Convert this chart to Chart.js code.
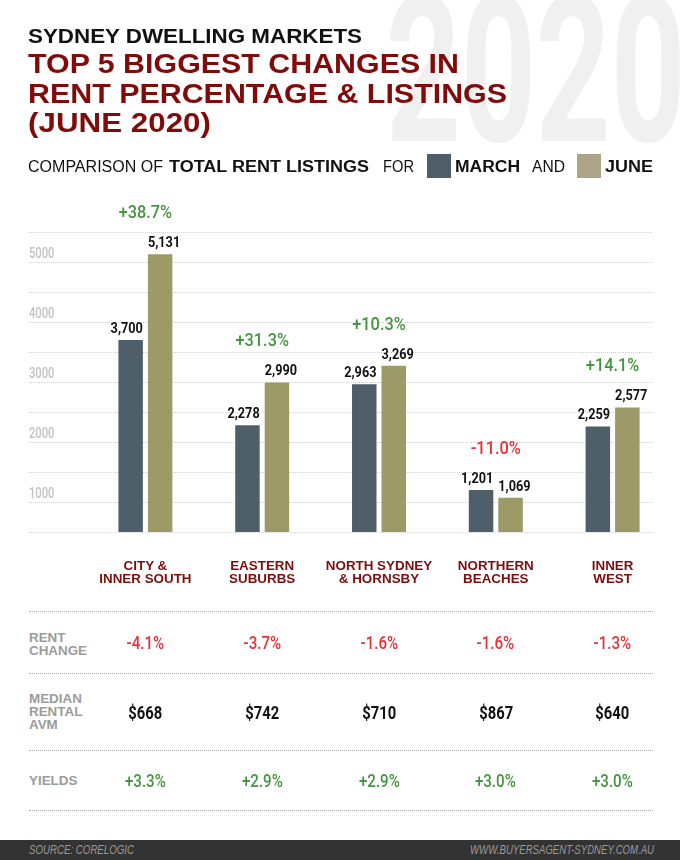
<!DOCTYPE html>
<html>
<head>
<meta charset="utf-8">
<script src="https://cdn.jsdelivr.net/npm/chart.js@4.4.1/dist/chart.umd.min.js"></script>
<style>
  body { margin: 0; background: #fff; }
  #page { position: relative; width: 680px; height: 860px; overflow: hidden; font-family: "Liberation Sans", Arial, sans-serif; }
  .abs { position: absolute; white-space: nowrap; }
  #wm { left: 386px; top: -30px; font-family: Roboto, sans-serif; font-size: 204px; line-height: 204px; font-weight: bold; color: #f0f0f0; transform: scaleX(0.64); transform-origin: left top; }
  #chartBox { position: absolute; left: 0; top: 0; width: 680px; height: 600px; }
  .title { color: #800b0b; font-weight: bold; font-size: 27px; line-height: 30px; transform-origin: left center; }
  .legend { font-size: 16px; line-height: 20px; color: #111; transform-origin: left center; }
  .sw { position: absolute; width: 24px; height: 24px; top: 154px; }
  .cat { color: #7e0d0d; font-weight: bold; font-size: 13.4px; line-height: 13px; text-align: center; width: 130px; }
  .rowlab { color: #9b9b9b; font-weight: bold; font-size: 13.4px; line-height: 13px; left: 29px; }
  .val { font-family: Roboto, sans-serif; font-size: 18px; font-weight: 500; line-height: 22px; text-align: center; width: 100px; }
  .val span { display: inline-block; transform: scaleX(0.84); transform-origin: center; }
  .val.money { font-size: 18.5px; font-weight: bold; color: #111; }
  .val.money span { transform: scaleX(0.8); }
  .dots { position: absolute; left: 29px; width: 624px; height: 0; border-top: 1px dotted #a8a8a8; }
  #footer { position: absolute; left: 0; top: 840px; width: 680px; height: 20px; background: #333333; }
  .foot { color: #9a9a9a; font-style: italic; font-size: 12px; line-height: 20px; top: 0; }
</style>
</head>
<body>
<div id="page">
  <div id="wm" class="abs">2020</div>
  <div id="chartBox"><canvas id="chart" width="680" height="600"></canvas></div>

  <div class="abs" id="h0" style="left:28px;top:25px;font-size:20px;line-height:22px;font-weight:bold;color:#111;transform-origin:left center;">SYDNEY DWELLING MARKETS</div>
  <div class="abs title" id="t1" style="left:28px;top:49px;">TOP 5 BIGGEST CHANGES IN</div>
  <div class="abs title" id="t2" style="left:28px;top:79px;">RENT PERCENTAGE &amp; LISTINGS</div>
  <div class="abs title" id="t3" style="left:28px;top:108px;">(JUNE 2020)</div>

  <div class="abs legend" id="l1" style="left:28px;top:157px;">COMPARISON OF</div>
  <div class="abs legend" id="l2" style="left:169px;top:157px;font-weight:bold;">TOTAL RENT LISTINGS</div>
  <div class="abs legend" id="l3" style="left:383px;top:157px;">FOR</div>
  <div class="sw" id="swMarch" style="left:427px;"></div>
  <div class="abs legend" id="l4" style="left:455px;top:157px;font-weight:bold;">MARCH</div>
  <div class="abs legend" id="l5" style="left:532px;top:157px;">AND</div>
  <div class="sw" id="swJune" style="left:577px;"></div>
  <div class="abs legend" id="l6" style="left:605px;top:157px;font-weight:bold;">JUNE</div>

  <div id="table"></div>

  <div id="footer">
    <div class="abs foot" id="f1" style="left:29px;transform-origin:left center;">SOURCE: CORELOGIC</div>
    <div class="abs foot" id="f2" style="right:26px;transform-origin:right center;">WWW.BUYERSAGENT-SYDNEY.COM.AU</div>
  </div>
</div>

<script>
// data
const categories = [['CITY &', 'INNER SOUTH'], ['EASTERN', 'SUBURBS'], ['NORTH SYDNEY', '& HORNSBY'], ['NORTHERN', 'BEACHES'], ['INNER', 'WEST']];
const marchListings = [3700, 2278, 2963, 1201, 2259];
const juneListings = [5131, 2990, 3269, 1069, 2577];
const listingChange = [38.7, 31.3, 10.3, -11.0, 14.1];
const rentChange = [-4.1, -3.7, -1.6, -1.6, -1.3];
const medianRent = [668, 742, 710, 867, 640];
const yields = [3.3, 2.9, 2.9, 3.0, 3.0];
const yTicks = [1000, 2000, 3000, 4000, 5000];

const MARCH_COLOR = '#4f5f6a';
const JUNE_COLOR = '#9c9a67';
const GREEN = '#45943f';
const RED = '#e5323a';

document.getElementById('swMarch').style.background = '#4f5d68';
document.getElementById('swJune').style.background = '#ada487';

function signed(v) {
    return (v > 0 ? '+' : '') + v.toFixed(1) + '%';
}

// squeeze text to the width seen in the picture
function fitWidth(id, w) {
    const el = document.getElementById(id);
    const real = el.getBoundingClientRect().width;
    el.style.transform = `scaleX(${w / real})`;
}

// canvas text, squeezed sideways to look condensed
function narrowText(ctx, text, x, y, align, sx) {
    ctx.save();
    ctx.translate(x, y);
    ctx.scale(sx, 1);
    ctx.textAlign = align;
    ctx.fillText(text, 0, 0);
    ctx.restore();
}

const decor = {
    id: 'decor',
    beforeDatasetsDraw(chart) {
        const ctx = chart.ctx;
        const y = chart.scales.y;
        ctx.save();
        ctx.strokeStyle = '#cfcfcf';
        ctx.lineWidth = 1;
        ctx.setLineDash([1, 1]);
        for (let v = 500; v <= 5500; v += 500) {
            const py = Math.round(y.getPixelForValue(v)) + 0.5;
            ctx.beginPath();
            ctx.moveTo(29, py);
            ctx.lineTo(653, py);
            ctx.stroke();
        }
        ctx.setLineDash([]);
        ctx.fillStyle = '#c2c2c2';
        ctx.font = '500 14px Roboto';
        ctx.textBaseline = 'middle';
        yTicks.forEach(v => narrowText(ctx, String(v), 29, y.getPixelForValue(v) - 8, 'left', 0.8));
        ctx.restore();
    },
    afterDatasetsDraw(chart) {
        const ctx = chart.ctx;
        const m = chart.getDatasetMeta(0).data;
        const j = chart.getDatasetMeta(1).data;
        ctx.save();
        ctx.textBaseline = 'middle';
        ctx.fillStyle = '#111';
        ctx.font = 'bold 15.5px Roboto';
        m.forEach((bar, i) => {
            narrowText(ctx, marchListings[i].toLocaleString('en-US'), bar.x + bar.width / 2, bar.y - 11, 'right', 0.82);
        });
        j.forEach((bar, i) => {
            narrowText(ctx, juneListings[i].toLocaleString('en-US'), bar.x - bar.width / 2, bar.y - 11, 'left', 0.82);
        });
        ctx.font = '500 19px Roboto';
        listingChange.forEach((c, i) => {
            const top = Math.min(m[i].y, j[i].y);
            ctx.fillStyle = c < 0 ? RED : GREEN;
            narrowText(ctx, signed(c), chart.scales.x.getPixelForValue(i), top - 41, 'center', 0.86);
        });
        ctx.restore();
    }
};

const chart = new Chart(document.getElementById('chart'), {
    type: 'bar',
    data: {
        labels: categories.map(c => c.join(' ')),
        datasets: [
            { label: 'March', data: marchListings, backgroundColor: MARCH_COLOR },
            { label: 'June', data: juneListings, backgroundColor: JUNE_COLOR }
        ]
    },
    options: {
        responsive: false,
        animation: false,
        layout: { padding: { left: 87, right: 9, top: 232, bottom: 68 } },
        datasets: { bar: { categoryPercentage: 0.505, barPercentage: 0.83 } },
        scales: {
            x: { display: false },
            y: { display: false, min: 500, max: 5500 }
        },
        plugins: { legend: { display: false }, tooltip: { enabled: false } }
    },
    plugins: [decor]
});

// table under the chart, columns follow the x scale
function buildTable() {
    const table = document.getElementById('table');
    const esc = s => s.replace('&', '&amp;');
    let html = '';
    [611, 673, 750, 810].forEach(y => { html += `<div class="dots" style="top:${y}px"></div>`; });
    html += `<div class="abs rowlab" style="top:631px">RENT<br>CHANGE</div>`;
    html += `<div class="abs rowlab" style="top:692px">MEDIAN<br>RENTAL<br>AVM</div>`;
    html += `<div class="abs rowlab" style="top:774px">YIELDS</div>`;
    categories.forEach((c, i) => {
        const cx = chart.scales.x.getPixelForValue(i);
        html += `<div class="abs cat" style="left:${cx - 65}px;top:559px">${esc(c[0])}<br>${esc(c[1])}</div>`;
        html += `<div class="abs val" style="left:${cx - 50}px;top:632px;color:${RED}"><span>${signed(rentChange[i])}</span></div>`;
        html += `<div class="abs val money" style="left:${cx - 50}px;top:702px"><span>$${medianRent[i]}</span></div>`;
        html += `<div class="abs val" style="left:${cx - 50}px;top:770px;color:${GREEN}"><span>${signed(yields[i])}</span></div>`;
    });
    table.innerHTML = html;
}
buildTable();

fitWidth('h0', 334);
fitWidth('t1', 431);
fitWidth('t2', 479);
fitWidth('t3', 183);
fitWidth('l1', 135);
fitWidth('l2', 200);
fitWidth('l3', 31);
fitWidth('l4', 65);
fitWidth('l5', 33);
fitWidth('l6', 48);
fitWidth('f1', 105);
fitWidth('f2', 184);
</script>
</body>
</html>
